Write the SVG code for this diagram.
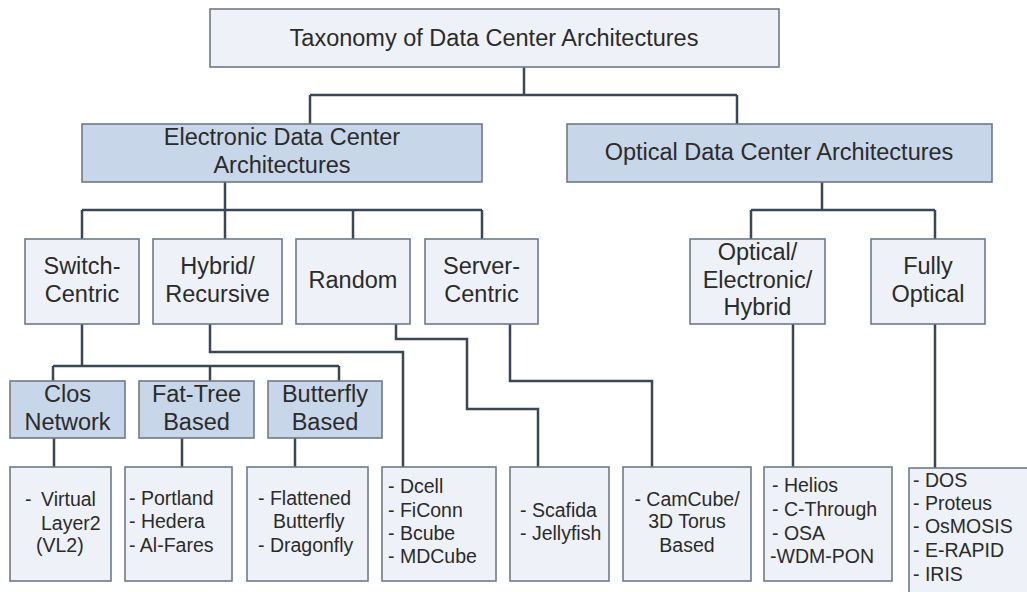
<svg xmlns="http://www.w3.org/2000/svg" width="1027" height="592" viewBox="0 0 1027 592">
<style>
.box{fill:#eef2f8;stroke:#6f7a88;stroke-width:1.6}
.blue{fill:#c7d6e8;stroke:#6f7a88;stroke-width:1.6}
.t{font-family:"Liberation Sans",Arial,sans-serif;font-size:23.5px;fill:#2b2b2b;text-anchor:middle}
.s{font-family:"Liberation Sans",Arial,sans-serif;font-size:19.5px;fill:#2b2b2b}
.c{text-anchor:middle}
.ln{fill:none;stroke:#3b4757;stroke-width:2.5;stroke-linejoin:miter}
</style>
<rect width="1027" height="592" fill="#ffffff"/>
<g id="connectors">
<path class="ln" d="M524 67V95M310 95H737M310 95V124M737 95V124"/>
<path class="ln" d="M225 182V239M82 210H482M82 210V239M353 210V239M482 210V239"/>
<path class="ln" d="M822 182V210M751 210H935M751 210V239M935 210V239"/>
<path class="ln" d="M82 324V366M53 366H339M53 366V381M210 366V381M339 366V381"/>
<path class="ln" d="M54 438V467M182 438V467M295 438V467"/>
<path class="ln" d="M210 324V352H403V467"/>
<path class="ln" d="M396 324V339H467V409H538V467"/>
<path class="ln" d="M510 324V381H652V467"/>
<path class="ln" d="M793 324V467"/>
<path class="ln" d="M935 324V468"/>
</g>
<g id="root"><rect class="box" x="210" y="9" width="569" height="58"/><text class="t" x="494" y="46">Taxonomy of Data Center Architectures</text></g>
<g id="electronic"><rect class="blue" x="82" y="124" width="400" height="58"/><text class="t" x="282" y="145">Electronic Data Center</text><text class="t" x="282" y="173">Architectures</text></g>
<g id="optical"><rect class="blue" x="567" y="124" width="425" height="58"/><text class="t" x="779" y="160">Optical Data Center Architectures</text></g>
<g id="switch-centric"><rect class="box" x="25" y="239" width="114" height="85"/><text class="t" x="82" y="274">Switch-</text><text class="t" x="82" y="302">Centric</text></g>
<g id="hybrid-recursive"><rect class="box" x="153" y="239" width="129" height="85"/><text class="t" x="217.5" y="274">Hybrid/</text><text class="t" x="217.5" y="302">Recursive</text></g>
<g id="random"><rect class="box" x="296" y="239" width="114" height="85"/><text class="t" x="353" y="288">Random</text></g>
<g id="server-centric"><rect class="box" x="425" y="239" width="113" height="85"/><text class="t" x="481.5" y="274">Server-</text><text class="t" x="481.5" y="302">Centric</text></g>
<g id="oe-hybrid"><rect class="box" x="690" y="239" width="135" height="85"/><text class="t" x="757.5" y="260">Optical/</text><text class="t" x="757.5" y="288">Electronic/</text><text class="t" x="757.5" y="315">Hybrid</text></g>
<g id="fully-optical"><rect class="box" x="871" y="239" width="114" height="85"/><text class="t" x="928" y="274">Fully</text><text class="t" x="928" y="302">Optical</text></g>
<g id="clos"><rect class="blue" x="10" y="381" width="115" height="57"/><text class="t" x="67.5" y="402">Clos</text><text class="t" x="67.5" y="430">Network</text></g>
<g id="fat-tree"><rect class="blue" x="139" y="381" width="115" height="57"/><text class="t" x="196.5" y="402">Fat-Tree</text><text class="t" x="196.5" y="430">Based</text></g>
<g id="butterfly"><rect class="blue" x="268" y="381" width="114" height="57"/><text class="t" x="325" y="402">Butterfly</text><text class="t" x="325" y="430">Based</text></g>
<g id="vl2"><rect class="box" x="10" y="467" width="101" height="114"/><text class="s" x="25" y="506">-</text><text class="s" x="41" y="506">Virtual</text><text class="s" x="41" y="530">Layer2</text><text class="s" x="36" y="552">(VL2)</text></g>
<g id="portland"><rect class="box" x="125" y="467" width="107" height="114"/><text class="s" x="129" y="505">- Portland</text><text class="s" x="129" y="528">- Hedera</text><text class="s" x="129" y="552">- Al-Fares</text></g>
<g id="flattened"><rect class="box" x="247" y="467" width="121" height="114"/><text class="s" x="258" y="505">- Flattened</text><text class="s" x="273" y="528">Butterfly</text><text class="s" x="258" y="552">- Dragonfly</text></g>
<g id="dcell"><rect class="box" x="382" y="467" width="114" height="114"/><text class="s" x="388" y="493">- Dcell</text><text class="s" x="388" y="517">- FiConn</text><text class="s" x="388" y="540">- Bcube</text><text class="s" x="388" y="563">- MDCube</text></g>
<g id="scafida"><rect class="box" x="510" y="467" width="99" height="114"/><text class="s" x="520" y="517">- Scafida</text><text class="s" x="520" y="540">- Jellyfish</text></g>
<g id="camcube"><rect class="box" x="623" y="467" width="128" height="114"/><text class="s c" x="687" y="506">- CamCube/</text><text class="s c" x="687" y="528">3D Torus</text><text class="s c" x="687" y="552">Based</text></g>
<g id="helios"><rect class="box" x="764" y="467" width="128" height="114"/><text class="s" x="772" y="492">- Helios</text><text class="s" x="772" y="516">- C-Through</text><text class="s" x="772" y="540">- OSA</text><text class="s" x="770" y="563">-WDM-PON</text></g>
<g id="dos"><rect class="box" x="909" y="468" width="130" height="140"/><text class="s" x="913" y="487">- DOS</text><text class="s" x="913" y="510">- Proteus</text><text class="s" x="913" y="533">- OsMOSIS</text><text class="s" x="913" y="557">- E-RAPID</text><text class="s" x="913" y="581">- IRIS</text></g>
</svg>
